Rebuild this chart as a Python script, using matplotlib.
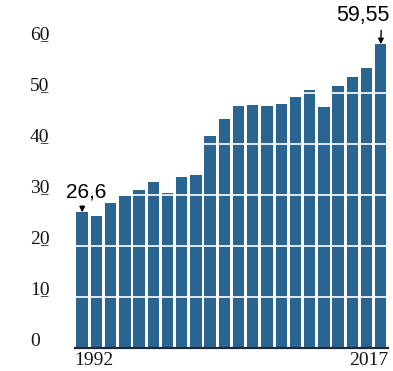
import numpy as np
import matplotlib
matplotlib.use('Agg')
import matplotlib.pyplot as plt

# one bar per reported year, 1992 .. 2017
values = [26.6, 25.8, 28.4, 29.8, 31.0, 32.5, 30.4, 33.5, 33.9, 41.6, 44.9,
          47.5, 47.6, 47.5, 47.8, 49.2, 50.6, 47.3, 51.4, 53.1, 54.9, 59.55]
first_year = '1992'
last_year = '2017'
yticks = [0, 10, 20, 30, 40, 50, 60]
ylabels = ['0', '10', '20', '30', '40', '50', '60']
first_label = '26,6'
last_label = '59,55'

bar_color = '#2a6592'
x = np.arange(len(values))

fig = plt.figure(figsize=(3.93, 3.71), dpi=100)
ax = fig.add_axes([0.191, 0.062, 0.796, 0.825])

ax.bar(x, values, width=0.8, color=bar_color, zorder=1)
for t in yticks[1:-1]:
    ax.axhline(t, color='white', lw=1.2, zorder=2)

ax.set_xlim(-0.5, len(values) - 0.5)
ax.set_ylim(0, 60)
for s in ['top', 'right', 'left']:
    ax.spines[s].set_visible(False)
ax.spines['bottom'].set_color('#1b2a3a')
ax.spines['bottom'].set_linewidth(1.6)
ax.spines['bottom'].set_zorder(3)
ax.set_xticks([])
ax.set_yticks([])

# y labels, left aligned, sitting on their grid line; last digit underlined
ytr = ax.get_yaxis_transform()
fs = 14
for t, lab in zip(yticks, ylabels):
    ax.annotate(lab, xy=(-0.144, t), xycoords=ytr, xytext=(0, 1.5),
                textcoords='offset points', ha='left', va='baseline',
                fontsize=fs, family='Liberation Serif', color='#151515',
                annotation_clip=False)
    if t > 0:
        # short underline below the second digit
        ax.annotate('_', xy=(-0.144, t), xycoords=ytr, xytext=(fs * 0.52, 1.2),
                    textcoords='offset points', ha='left', va='baseline',
                    fontsize=fs * 0.75, family='Liberation Serif', color='#151515',
                    annotation_clip=False)

# year labels under first and last bar
ax.text(-0.55, -0.7, first_year, ha='left', va='top', fontsize=14,
        family='Liberation Serif', color='#151515')
ax.text(len(values) - 0.5, -0.7, last_year, ha='right', va='top', fontsize=14,
        family='Liberation Serif', color='#151515')

# value callouts
arrow = dict(arrowstyle='-|>', color='black', lw=1, mutation_scale=8,
             shrinkA=1, shrinkB=0)
ax.annotate(first_label, xy=(0, values[0]), xytext=(3, 7.5), textcoords='offset points',
            ha='center', va='bottom', fontsize=15, family='Liberation Sans',
            arrowprops=dict(arrow, relpos=(0.4, 0)), annotation_clip=False)
ax.annotate(last_label, xy=(len(values) - 1, values[-1]), xytext=(6.5, 13),
            textcoords='offset points', ha='right', va='bottom', fontsize=15.5,
            family='Liberation Sans', arrowprops=dict(arrow, relpos=(0.84, 0)),
            annotation_clip=False)

fig.savefig('out.png', dpi=100)
